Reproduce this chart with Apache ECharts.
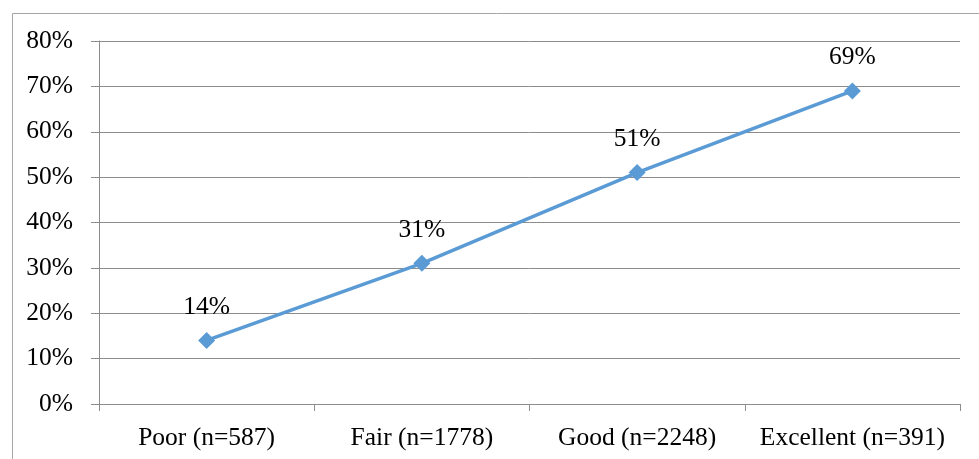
<!DOCTYPE html>
<html>
<head>
<meta charset="utf-8">
<script src="https://cdn.jsdelivr.net/npm/echarts@6/dist/echarts.min.js"></script>
<style>html,body{margin:0;padding:0;background:#fff;}#c{width:979px;height:459px;}</style>
</head>
<body>
<div id="c"></div>
<script>
const categories = ["Poor (n=587)", "Fair (n=1778)", "Good (n=2248)", "Excellent (n=391)"];
const values = [14, 31, 51, 69];
const yTicks = { min: 0, max: 80, interval: 10 };

const chart = echarts.init(document.getElementById('c'));
const font = "'Liberation Serif', 'Times New Roman', serif";
chart.setOption({
  animation: false,
  graphic: [{
    type: 'rect', left: 10, top: 11,
    shape: { width: 975, height: 460 },
    style: { fill: 'none', stroke: '#a6a6a6', lineWidth: 1 }
  }],
  grid: { left: 99, right: 19, top: 41, bottom: 55 },
  xAxis: {
    type: 'category', data: categories, boundaryGap: true,
    axisLine: { lineStyle: { color: '#8c8c8c', width: 1 } },
    axisTick: { show: true, interval: 0, length: 7, lineStyle: { color: '#8c8c8c' } },
    axisLabel: { interval: 0, hideOverlap: false, color: '#000', fontFamily: font, fontSize: 25.5, margin: 21 }
  },
  yAxis: {
    type: 'value', min: yTicks.min, max: yTicks.max, interval: yTicks.interval,
    axisLine: { show: true, lineStyle: { color: '#8c8c8c', width: 1 } },
    axisTick: { show: true, length: 8, lineStyle: { color: '#8c8c8c' } },
    splitLine: { lineStyle: { color: '#8c8c8c', width: 1 } },
    axisLabel: { color: '#000', fontFamily: font, fontSize: 25.5, margin: 26, formatter: v => v + '%' }
  },
  series: [{
    type: 'line', data: values,
    lineStyle: { color: '#5b9bd5', width: 3.5 },
    itemStyle: { color: '#5b9bd5' },
    symbol: 'diamond', symbolSize: 17,
    label: { show: true, position: 'top', distance: 12, color: '#000', fontFamily: font, fontSize: 25.5, formatter: p => p.value + '%' }
  }]
});
</script>
</body>
</html>
